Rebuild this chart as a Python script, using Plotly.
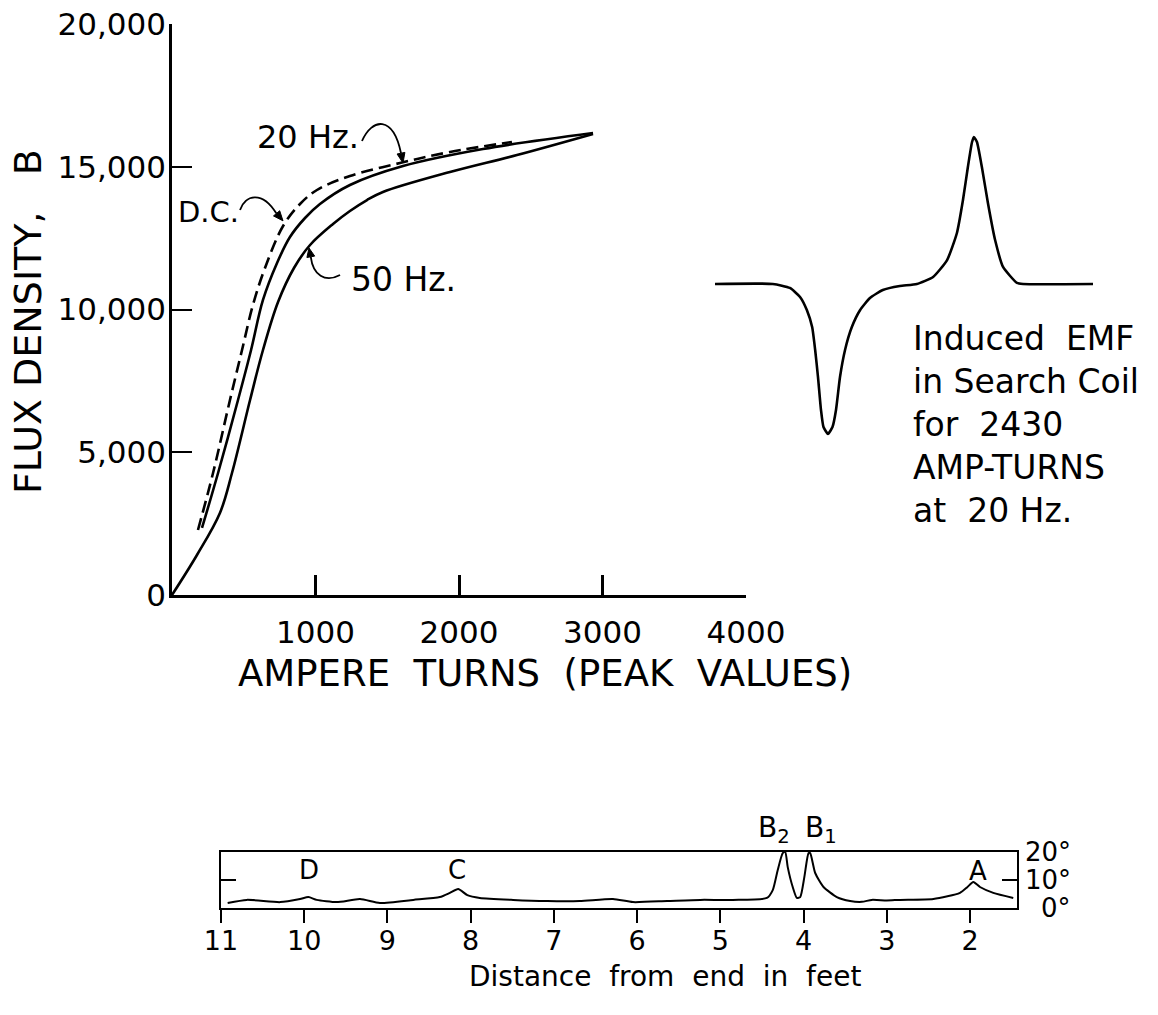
import plotly.graph_objects as go

W, H = 1158, 1015
FONT = "DejaVu Sans"

def px(x):
    return x / W

def py(y):
    return 1 - y / H

# ---- Main chart: flux density vs ampere turns ----
dc_at = [181, 286, 404, 488, 564, 648, 774, 892, 1010, 1240, 1589, 1937, 2369]
dc_b = [2277, 4273, 6830, 8581, 10158, 11454, 12925, 13695, 14186, 14676, 15131, 15517, 15867]

hz20_at = [209, 321, 460, 551, 634, 732, 822, 927, 1031, 1240, 1610, 2167, 2934]
hz20_b = [2347, 4273, 6830, 8581, 10333, 11629, 12539, 13205, 13695, 14361, 15026, 15622, 16182]

hz50_at = [0, 174, 334, 418, 544, 634, 739, 850, 962, 1122, 1240, 1359, 1470, 1937, 2404, 2934]
hz50_b = [0, 1401, 2872, 4273, 6830, 8581, 10263, 11454, 12259, 12995, 13450, 13835, 14116, 14816, 15412, 16150]

x_ticks = [1000, 2000, 3000, 4000]
x_ticktext = ["1000", "2000", "3000", "4000"]
y_ticks = [0, 5000, 10000, 15000, 20000]
y_ticktext = ["0", "5,000", "10,000", "15,000", "20,000"]

# ---- Inset: induced EMF pulse (arbitrary time units) ----
emf_t = [0, 15.3, 19.8, 22.5, 24.3, 25.7, 26.5, 27.25, 28.04, 28.7, 29.89, 31.08, 32.01, 33.07, 34.4,
         36.2, 38.4, 41.0, 44.4, 48.9, 53.4, 57.7, 61.4, 64.0, 65.6, 66.9, 68.0, 68.5, 69.3,
         70.6, 72.2, 74.1, 76.2, 79.9, 81.5, 100]
emf_v = [0, 0, -0.027, -0.088, -0.177, -0.293, -0.449, -0.633, -0.857, -0.973, -1.02, -0.973,
         -0.857, -0.633, -0.449, -0.293, -0.177, -0.095, -0.041, -0.014, 0, 0.048, 0.163, 0.347,
         0.571, 0.796, 0.966, 1.0, 0.966, 0.796, 0.551, 0.299, 0.116, 0.007, 0, 0]

# ---- Bottom chart: angle vs distance from end ----
dist_ft = [10.92, 10.69, 10.29, 10.05, 9.95, 9.85, 9.61, 9.33, 9.09, 8.69, 8.37, 8.25, 8.15,
           8.04, 7.89, 7.49, 7.08, 6.69, 6.29, 6.05, 5.64, 5.24, 4.85, 4.44, 4.37, 4.31,
           4.25, 4.22, 4.19, 4.13, 4.08, 4.04, 3.99, 3.94, 3.92, 3.86, 3.76, 3.60, 3.44,
           3.30, 3.18, 3.00, 2.84, 2.44, 2.12, 2.03, 1.96, 1.88, 1.72, 1.48]
angle_deg = [1.8, 2.9, 2.1, 3.2, 3.9, 2.9, 2.1, 3.2, 1.8, 2.9, 3.9, 5.4, 6.8,
             4.6, 3.6, 2.9, 2.5, 2.5, 3.2, 2.1, 2.5, 2.9, 2.9, 3.6, 6.4, 13.6,
             19.6, 20.0, 14.6, 7.5, 3.6, 3.9, 11.1, 19.6, 19.6, 12.5, 7.5, 3.9, 2.5,
             2.2, 2.9, 2.7, 2.9, 3.2, 5.4, 7.5, 9.3, 7.5, 5.4, 3.6]
dist_ticks = [11, 10, 9, 8, 7, 6, 5, 4, 3, 2]
deg_ticks = [0, 10, 20]
deg_text = ["0°", "10°", "20°"]

fig = go.Figure()
line_w = 2.6
fig.add_trace(go.Scatter(x=dc_at, y=dc_b, mode="lines",
                         line=dict(color="black", width=line_w, dash="12px,6px", shape="spline", smoothing=1.0),
                         xaxis="x", yaxis="y", name="D.C."))
fig.add_trace(go.Scatter(x=hz20_at, y=hz20_b, mode="lines",
                         line=dict(color="black", width=line_w, shape="spline", smoothing=1.0),
                         xaxis="x", yaxis="y", name="20 Hz"))
fig.add_trace(go.Scatter(x=hz50_at, y=hz50_b, mode="lines",
                         line=dict(color="black", width=line_w, shape="spline", smoothing=1.0),
                         xaxis="x", yaxis="y", name="50 Hz"))
fig.add_trace(go.Scatter(x=emf_t, y=emf_v, mode="lines",
                         line=dict(color="black", width=line_w, shape="spline", smoothing=0.5),
                         xaxis="x2", yaxis="y2", name="EMF"))
fig.add_trace(go.Scatter(x=dist_ft, y=angle_deg, mode="lines",
                         line=dict(color="black", width=2, shape="spline", smoothing=0.6),
                         xaxis="x3", yaxis="y3", name="angle"))

tickfont_main = dict(family=FONT, size=31, color="black")
fig.update_layout(
    width=W, height=H, margin=dict(l=0, r=0, t=0, b=0, autoexpand=False),
    paper_bgcolor="white", plot_bgcolor="white", showlegend=False,
    xaxis=dict(domain=[px(172), px(746)], range=[0, 4000], anchor="y", automargin=False,
               showline=True, linecolor="black", linewidth=2.5, showgrid=False, zeroline=False,
               tickvals=x_ticks, ticktext=x_ticktext, ticks="inside", ticklen=20, tickwidth=2.5,
               tickcolor="black", tickfont=tickfont_main, ticklabelstandoff=8),
    yaxis=dict(domain=[py(595), py(24)], range=[0, 20000], anchor="x", automargin=False,
               showline=True, linecolor="black", linewidth=2.5, showgrid=False, zeroline=False,
               tickvals=y_ticks, ticktext=y_ticktext, ticks="inside", ticklen=20, tickwidth=2,
               tickcolor="black", tickfont=tickfont_main, ticklabelstandoff=-3),
    xaxis2=dict(domain=[px(715), px(1093)], range=[0, 100], anchor="y2", visible=False, automargin=False),
    yaxis2=dict(domain=[0.5609, 0.8795], range=[-1.1, 1.1], anchor="x2", visible=False, automargin=False),
    xaxis3=dict(domain=[px(221), px(1017)], range=[11, 1.435], anchor="y3", automargin=False,
                showline=True, mirror=True, linecolor="black", linewidth=2, showgrid=False, zeroline=False,
                tickvals=dist_ticks, ticks="outside", ticklen=13, tickwidth=2, tickcolor="black",
                tickfont=dict(family=FONT, size=27, color="black"), ticklabelstandoff=-5),
    yaxis3=dict(domain=[py(908), py(852)], range=[0, 20], anchor="x3", automargin=False,
                showline=True, mirror="ticks", linecolor="black", linewidth=2, showgrid=False, zeroline=False,
                tickvals=[10], ticks="inside", ticklen=15, tickwidth=2, tickcolor="black",
                showticklabels=False),
)

anns = []
def txt(x, y, text, size, xref="paper", yref="paper", **kw):
    d = dict(x=x, y=y, xref=xref, yref=yref, text=text, showarrow=False,
             font=dict(family=FONT, size=size, color="black"))
    d.update(kw)
    anns.append(d)

# axis titles
txt(px(28), py(322), "FLUX DENSITY,\u00a0\u00a0\u00a0B", 38, textangle=-90, xanchor="center", yanchor="middle")
txt(px(545), py(673), "AMPERE\u00a0 TURNS\u00a0 (PEAK\u00a0 VALUES)", 37, xanchor="center", yanchor="middle")
txt(px(665), py(976), "Distance\u00a0 from\u00a0 end\u00a0 in\u00a0 feet", 28, xanchor="center", yanchor="middle")

# curve labels
txt(251, 13415, "D.C.", 29, xref="x", yref="y", xanchor="center", yanchor="middle")
txt(948, 16042, "20 Hz.", 32, xref="x", yref="y", xanchor="center", yanchor="middle")
txt(1610, 11068, "50 Hz.", 33, xref="x", yref="y", xanchor="center", yanchor="middle")

# inset caption
txt(px(911), py(424), "Induced\u00a0 EMF<br>in Search Coil<br>for\u00a0 2430<br>AMP-TURNS<br>at\u00a0 20 Hz.", 33,
    xanchor="left", yanchor="middle", align="left")

# bottom peak labels
txt(9.94, 13.6, "D", 26, xref="x3", yref="y3")
txt(8.16, 13.4, "C", 26, xref="x3", yref="y3")
txt(1.90, 13.2, "A", 26, xref="x3", yref="y3")
txt(4.355, py(829), "B<sub>2</sub>", 28, xref="x3", yref="paper", yanchor="middle")
txt(3.79, py(829), "B<sub>1</sub>", 28, xref="x3", yref="paper", yanchor="middle")

# degree labels on right
for v, t in zip(deg_ticks, deg_text):
    txt(px(1073), v, t, 26, yref="y3", xanchor="right", yanchor="middle")

fig.update_layout(annotations=anns)

# curly pointer strokes (decoration)
paths = [
    "M 474,13485 C 509,14010 627,14186 727,13369",
    "M 1324,15902 C 1394,16708 1540,16813 1596,15475",
    "M 1171,11208 C 1066,10928 983,11208 967,11846",
]
for p in paths:
    fig.add_shape(type="path", path=p, xref="x", yref="y", line=dict(color="black", width=1.8))

# arrowheads (filled triangles)
heads = [
    "M 773.5,13105 L 707.3,13278 L 750.5,13460 Z",
    "M 1609.8,15131 L 1568.6,15447 L 1623.0,15503 Z",
    "M 954.7,12154 L 994.4,11870 L 940.1,11821 Z",
]
for p in heads:
    fig.add_shape(type="path", path=p, xref="x", yref="y", fillcolor="black",
                  line=dict(color="black", width=1))

fig.write_html("out.html")
